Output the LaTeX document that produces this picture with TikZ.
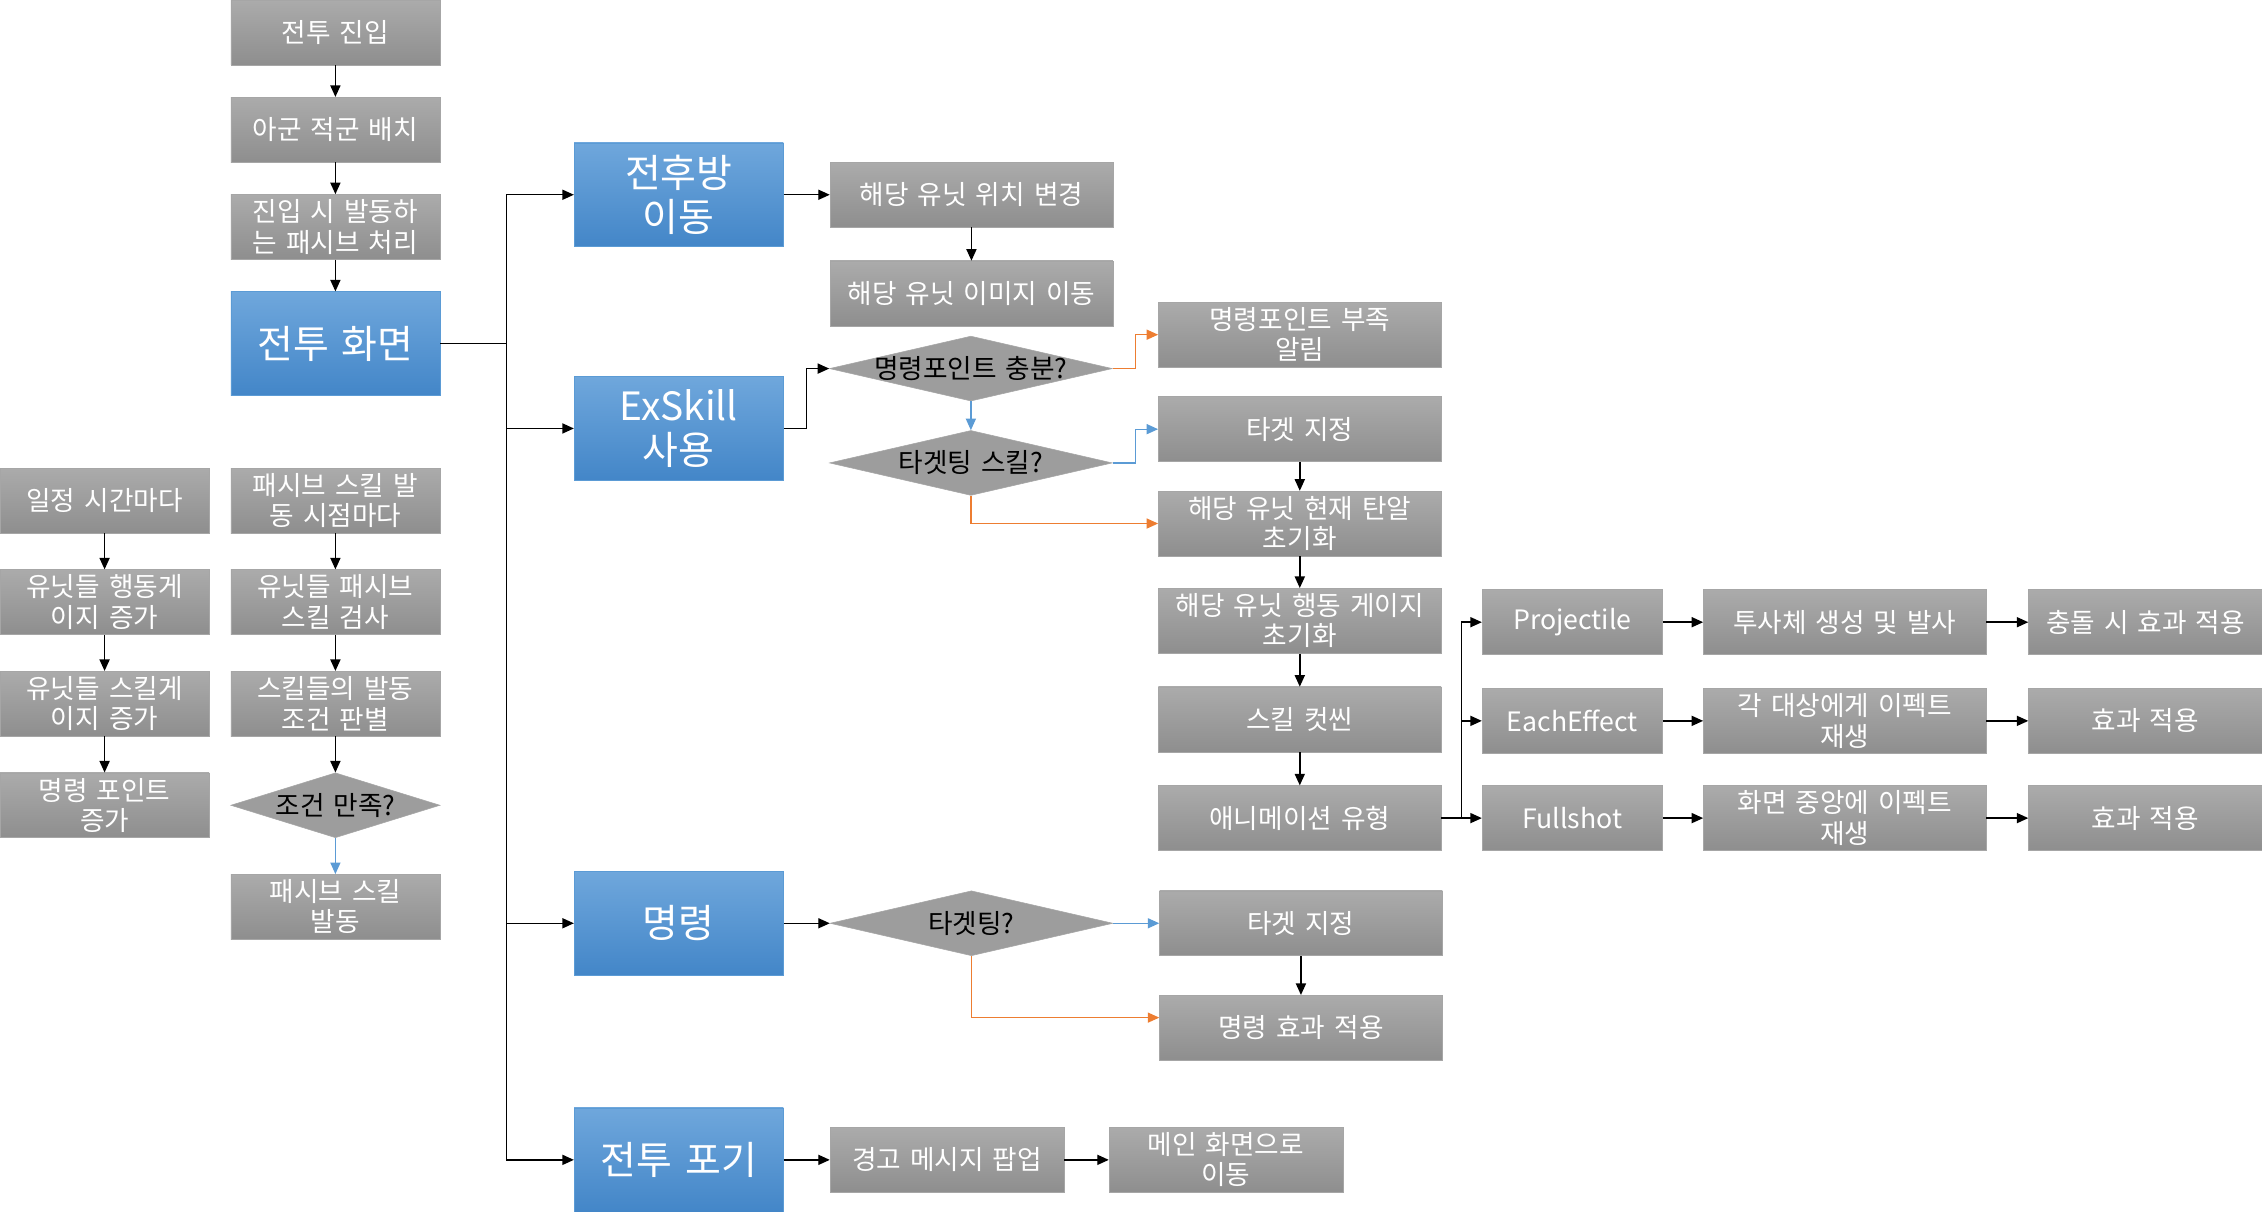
\documentclass[tikz,border=0pt]{standalone}
\usepackage{fontspec}
\setmainfont{Noto Sans CJK KR}[WordSpace=1.5]
\usetikzlibrary{arrows.meta,positioning,shapes.geometric}
\definecolor{boxtop}{HTML}{ABABAB}
\definecolor{boxbot}{HTML}{8E8E8E}
\definecolor{boxline}{HTML}{A6A6A6}
\definecolor{maintop}{HTML}{6FA7DC}
\definecolor{mainbot}{HTML}{4386C8}
\definecolor{mainline}{HTML}{5B9BD5}
\definecolor{yesline}{HTML}{5B9BD5}
\definecolor{noline}{HTML}{ED7D31}
\definecolor{decfill}{HTML}{9D9D9D}
\tikzset{
    proc/.style={rectangle,draw=boxline,top color=boxtop,bottom color=boxbot,text=white,
        minimum width=145pt,minimum height=45pt,inner sep=1pt,align=center,
        font=\fontsize{18.5pt}{21pt}\selectfont},
    wideproc/.style={proc,minimum width=196pt},
    midproc/.style={proc,minimum width=162pt},
    narrowproc/.style={proc,minimum width=125pt},
    mainbox/.style={rectangle,draw=mainline,top color=maintop,bottom color=mainbot,text=white,
        minimum width=145pt,minimum height=72pt,inner sep=1pt,align=center,
        font=\fontsize{27pt}{30pt}\selectfont},
    decision/.style={diamond,draw=boxline,fill=decfill,minimum width=196pt,minimum height=45pt,
        inner sep=0pt,font=\fontsize{18.5pt}{21pt}\selectfont},
    flow/.style={-{Triangle[length=8pt,width=7pt]},line width=1pt},
    yesflow/.style={flow,draw=yesline,line width=0.9pt},
    noflow/.style={flow,draw=noline,line width=0.9pt}
}
\newcommand{\dtext}[1]{\makebox[0pt]{#1}}
\begin{document}
\begin{tikzpicture}[x=1pt,y=-1pt]
\useasboundingbox (0,0) rectangle (1568,840);

                \node[proc] (enter)         at (232.5,22.5)                 {전투 진입};
                \node[proc] (deploy)        [below=22pt of enter]           {아군 적군 배치};
                \node[proc] (entry passive) [below=22pt of deploy]          {진입 시 발동하\\는 패시브 처리};
                \node[mainbox] (battle screen) [below=22pt of entry passive] {전투 화면};

                \node[proc] (every tick)    at (72.5,347)                   {일정 시간마다};
                \node[proc] (action gauge)  [below=25pt of every tick]      {유닛들 행동게\\이지 증가};
                \node[proc] (skill gauge)   [below=25pt of action gauge]    {유닛들 스킬게\\이지 증가};
                \node[proc] (cp gain)       [below=25pt of skill gauge]     {명령 포인트\\증가};

                \node[proc] (passive timing) at (232.5,347)                 {패시브 스킬 발\\동 시점마다};
                \node[proc] (passive scan)  [below=25pt of passive timing]  {유닛들 패시브\\스킬 검사};
                \node[proc] (passive cond)  [below=25pt of passive scan]    {스킬들의 발동\\조건 판별};
                \node[decision,minimum width=145pt] (cond check) [below=25pt of passive cond] {\dtext{조건 만족?}};
                \node[proc] (passive fire)  [below=25pt of cond check]      {패시브 스킬\\발동};

                \node[mainbox] (move)       at (470.5,135)                  {전후방\\이동};
                \node[mainbox] (exskill)    at (470.5,297)                  {ExSkill\\사용};
                \node[mainbox] (command)    at (470.5,640)                  {명령};
                \node[mainbox] (give up)    at (470.5,804)                  {전투 포기};

                \node[wideproc] (pos change) [right=32pt of move]           {해당 유닛 위치 변경};
                \node[wideproc] (img move)  [below=23pt of pos change]      {해당 유닛 이미지 이동};

                \node[decision] (cp check)  at (673,255.5)                  {\dtext{명령포인트 충분?}};
                \node[decision] (target check) [below=20pt of cp check]     {\dtext{타겟팅 스킬?}};
                \node[wideproc] (cp short)  at (901,232)                    {명령포인트 부족\\알림};
                \node[wideproc] (skill target) at (901,297.5)               {타겟 지정};
                \node[wideproc] (ammo reset) [below=20pt of skill target]   {해당 유닛 현재 탄알\\초기화};
                \node[wideproc] (gauge reset) [below=22pt of ammo reset]    {해당 유닛 행동 게이지\\초기화};
                \node[wideproc] (cutscene)  [below=23pt of gauge reset]     {스킬 컷씬};
                \node[wideproc] (anim type) [below=23pt of cutscene]        {애니메이션 유형};

                \node[narrowproc] (fullshot)    [right=28pt of anim type]   {Fullshot};
                \node[narrowproc] (each effect) [above=22pt of fullshot]    {EachEffect};
                \node[narrowproc] (projectile)  [above=23pt of each effect] {Projectile};
                \node[wideproc] (shoot)     [right=28pt of projectile]      {투사체 생성 및 발사};
                \node[wideproc] (each play) [right=28pt of each effect]     {각 대상에게 이펙트\\재생};
                \node[wideproc] (full play) [right=28pt of fullshot]        {화면 중앙에 이펙트\\재생};
                \node[midproc] (hit apply)  [right=29pt of shoot]           {충돌 시 효과 적용};
                \node[midproc] (each apply) [right=29pt of each play]       {효과 적용};
                \node[midproc] (full apply) [right=29pt of full play]       {효과 적용};

                \node[decision] (cmd check) [right=32pt of command]         {\dtext{타겟팅?}};
                \node[wideproc] (cmd target) [right=32pt of cmd check]      {타겟 지정};
                \node[wideproc] (cmd effect) [below=27pt of cmd target]     {명령 효과 적용};

                \node[midproc] (warning)    [right=32pt of give up]         {경고 메시지 팝업};
                \node[midproc] (to main)    [right=31pt of warning]         {메인 화면으로\\이동};

                \coordinate (trunk) at ([xshift=46pt]battle screen.east);
                \coordinate (anim split) at ([xshift=14pt]anim type.east);

                \draw[flow] (enter) -- (deploy);
                \draw[flow] (deploy) -- (entry passive);
                \draw[flow] (entry passive) -- (battle screen);
                \draw[flow] (every tick) -- (action gauge);
                \draw[flow] (action gauge) -- (skill gauge);
                \draw[flow] (skill gauge) -- (cp gain);
                \draw[flow] (passive timing) -- (passive scan);
                \draw[flow] (passive scan) -- (passive cond);
                \draw[flow] (passive cond) -- (cond check);
                \draw[yesflow] (cond check) -- (passive fire);

                \draw[flow] (battle screen.east) -- (trunk) |- (move.west);
                \draw[flow] (battle screen.east) -- (trunk) |- (exskill.west);
                \draw[flow] (battle screen.east) -- (trunk) |- (command.west);
                \draw[flow] (battle screen.east) -- (trunk) |- (give up.west);

                \draw[flow] (move) -- (pos change);
                \draw[flow] (pos change) -- (img move);

                \draw[flow] (exskill.east) -- ++(16pt,0) |- (cp check.west);
                \draw[noflow] (cp check.east) -- ++(16pt,0) |- (cp short.west);
                \draw[yesflow] (cp check.south) -- (target check.north);
                \draw[yesflow] (target check.east) -- ++(16pt,0) |- (skill target.west);
                \draw[noflow] (target check.south) |- (ammo reset.west);
                \draw[flow] (skill target) -- (ammo reset);
                \draw[flow] (ammo reset) -- (gauge reset);
                \draw[flow] (gauge reset) -- (cutscene);
                \draw[flow] (cutscene) -- (anim type);

                \draw[flow] (anim type.east) -- (anim split) |- (projectile.west);
                \draw[flow] (anim type.east) -- (anim split) |- (each effect.west);
                \draw[flow] (anim type.east) -- (fullshot.west);
                \draw[flow] (projectile) -- (shoot);
                \draw[flow] (shoot) -- (hit apply);
                \draw[flow] (each effect) -- (each play);
                \draw[flow] (each play) -- (each apply);
                \draw[flow] (fullshot) -- (full play);
                \draw[flow] (full play) -- (full apply);

                \draw[flow] (command) -- (cmd check);
                \draw[yesflow] (cmd check) -- (cmd target);
                \draw[noflow] (cmd check.south) |- ([yshift=7pt]cmd effect.west);
                \draw[flow] (cmd target) -- (cmd effect);

                \draw[flow] (give up) -- (warning);
                \draw[flow] (warning) -- (to main);

            \end{tikzpicture}
\end{document}
